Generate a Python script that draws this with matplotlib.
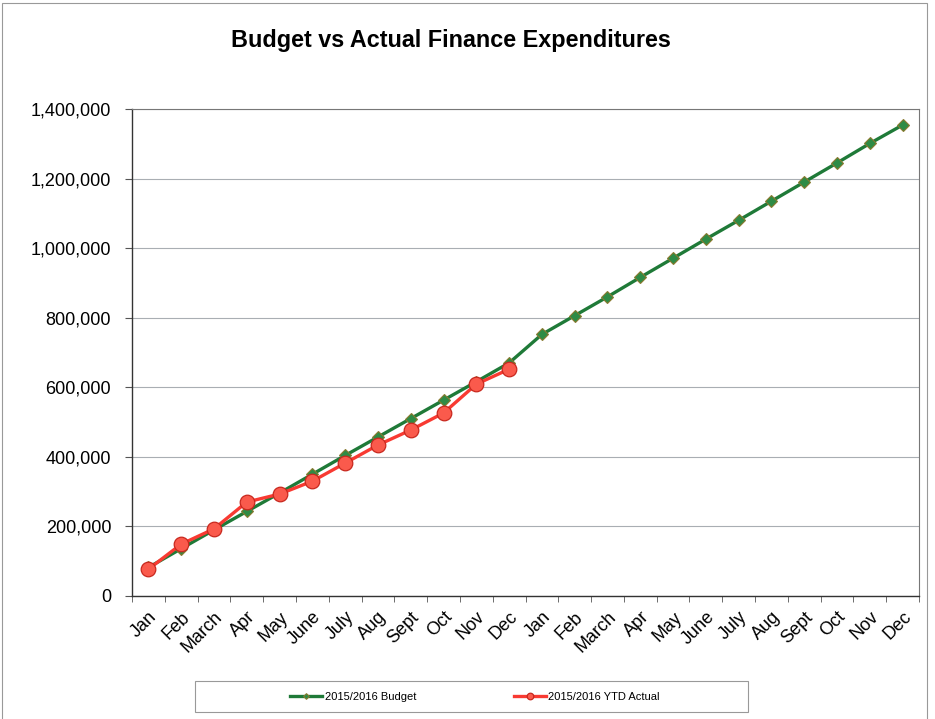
import matplotlib
matplotlib.use("Agg")
import matplotlib.pyplot as plt
from matplotlib.patches import Rectangle
from matplotlib.ticker import FuncFormatter

plt.rcParams['font.family'] = ['Liberation Sans', 'DejaVu Sans']

months = ["Jan", "Feb", "March", "Apr", "May", "June", "July", "Aug", "Sept", "Oct", "Nov", "Dec",
          "Jan", "Feb", "March", "Apr", "May", "June", "July", "Aug", "Sept", "Oct", "Nov", "Dec"]
budget = [82000, 136000, 190000, 243000, 296000, 350000, 404000, 457000, 510000, 563000, 616000, 670000,
          752000, 806000, 860000, 916000, 971000, 1026000, 1080000, 1135000, 1190000, 1245000, 1301000, 1354000]
actual = [77000, 149000, 193000, 270000, 293000, 330000, 382000, 434000, 477000, 526000, 609000, 652000]

fig = plt.figure(figsize=(9.35, 7.19), dpi=100)
ax = fig.add_axes([0.1412, 0.1711, 0.8417, 0.6773])

x_all = list(range(len(months)))
ax.plot(x_all, budget, color="#1f7a38", lw=2.4, marker="D", ms=6.5,
        mfc="#2e8b45", mec="#8a7a30", mew=0.8, label="2015/2016 Budget", zorder=3)
ax.plot(x_all[:len(actual)], actual, color="#f83a32", lw=2.4, marker="o", ms=10.5,
        mfc="#fa5a4c", mec="#c8281e", mew=0.9, label="2015/2016 YTD Actual", zorder=4)

ax.set_xlim(-0.5, len(months) - 0.5)
ax.set_ylim(0, 1400000)
ax.set_yticks(range(0, 1400001, 200000))
ax.yaxis.set_major_formatter(FuncFormatter(lambda v, p: f"{int(v):,}"))
ax.set_xticks(x_all)
ax.set_xticklabels(months, rotation=45, ha="right", rotation_mode="anchor", fontsize=13)
ax.set_xticks([i - 0.5 for i in range(len(months) + 1)], minor=True)
ax.tick_params(axis="x", which="major", length=0, pad=9)
ax.tick_params(axis="x", which="minor", length=4, color="#555555")
ax.tick_params(axis="y", labelsize=13, length=5, color="#555555", pad=10)
ax.grid(axis="y", color="#a9aeb3", lw=0.8)
ax.set_axisbelow(True)
for side in ["top", "right"]:
    ax.spines[side].set_color("#777777")
    ax.spines[side].set_linewidth(0.8)
for side in ["left", "bottom"]:
    ax.spines[side].set_color("#333333")
    ax.spines[side].set_linewidth(1.0)

fig.text(0.482, 0.944, "Budget vs Actual Finance Expenditures", ha="center", va="center",
         fontsize=16.8, fontweight="bold")

# legend box drawn separately, entries centred inside it
fig.patches.append(Rectangle((195 / 935, 1 - 712 / 719), 553 / 935, 31 / 719, transform=fig.transFigure,
                             fill=False, edgecolor="#999999", lw=0.8))
leg = fig.legend(loc="center", bbox_to_anchor=(0.508, 1 - 697 / 719), ncol=2, fontsize=8,
                 frameon=False, handlelength=2.9, handletextpad=0.2, columnspacing=8.8,
                 markerscale=0.45)

fig.patches.append(Rectangle((2 / 935, -0.01), 925 / 935, 1 - 3 / 719 + 0.01, transform=fig.transFigure,
                             fill=False, edgecolor="#999999", lw=0.8))

fig.savefig("out.png", dpi=100)
